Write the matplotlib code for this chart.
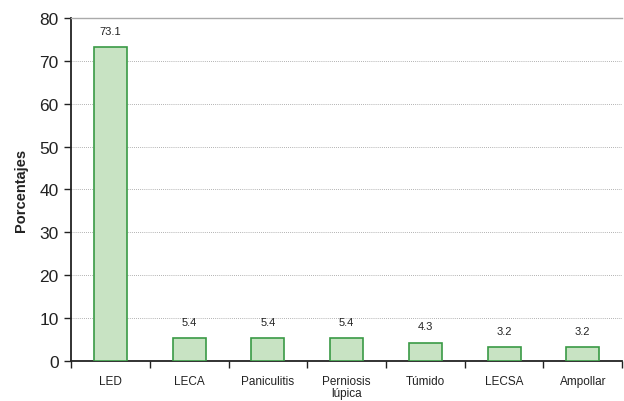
import matplotlib
matplotlib.use('Agg')
import matplotlib.pyplot as plt
import numpy as np

plt.rcParams['font.family'] = ['Liberation Sans', 'DejaVu Sans']

categories = ['LED', 'LECA', 'Paniculitis', 'Perniosis\nlúpica', 'Túmido', 'LECSA', 'Ampollar']
values = [73.1, 5.4, 5.4, 5.4, 4.3, 3.2, 3.2]
y_ticks = [0, 10, 20, 30, 40, 50, 60, 70, 80]

BAR_FILL = '#c8e3c3'
BAR_EDGE = '#3a9a45'
TEXT = '#222222'

fig = plt.figure(figsize=(6.24, 4.02), dpi=100)
ax = fig.add_axes([0.114, 0.0995, 0.883, 0.8535])

x = np.arange(len(categories))
ax.bar(x, values, width=0.42, color=BAR_FILL, edgecolor=BAR_EDGE, linewidth=1.2, zorder=3)

for xi, v in zip(x, values):
    ax.annotate(f'{v:.1f}', xy=(xi, v), xytext=(0, 8), textcoords='offset points',
                ha='center', va='bottom', fontsize=8, color=TEXT)

ax.set_xlim(-0.5, len(categories) - 0.5)
ax.set_ylim(0, 80)
ax.set_yticks(y_ticks)
ax.tick_params(axis='y', labelsize=12.5, length=5, width=1, colors=TEXT, pad=4)

ax.set_xticks(x)
ax.set_xticklabels(categories, fontsize=8.5, color=TEXT, linespacing=1.05)
ax.tick_params(axis='x', which='major', length=0, pad=10)
ax.set_xticks(np.arange(len(categories) + 1) - 0.5, minor=True)
ax.tick_params(axis='x', which='minor', length=5, width=1, color=TEXT)

ax.grid(True, axis='y', linestyle=(0, (1, 1.5)), linewidth=0.6, color='#999999', zorder=0)
ax.set_axisbelow(True)

ax.spines['right'].set_visible(False)
ax.spines['top'].set_color('#aaaaaa')
ax.spines['top'].set_linewidth(1.0)
ax.spines['left'].set_color(TEXT)
ax.spines['bottom'].set_color(TEXT)
ax.spines['left'].set_linewidth(1.3)
ax.spines['bottom'].set_linewidth(1.3)

ax.set_ylabel('Porcentajes', fontsize=10.5, fontweight='bold', color=TEXT, labelpad=8)

fig.savefig('out.png', dpi=100)
